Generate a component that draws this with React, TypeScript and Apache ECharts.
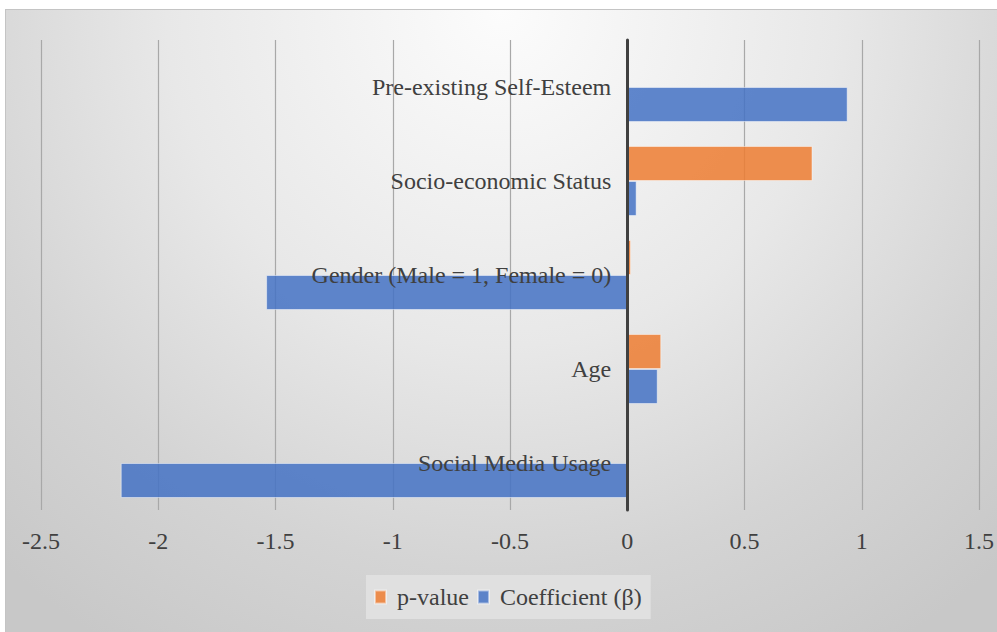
import React, { useEffect, useRef } from "react";
import * as echarts from "echarts";

const categories = [
  "Social Media Usage",
  "Age",
  "Gender (Male = 1, Female = 0)",
  "Socio-economic Status",
  "Pre-existing Self-Esteem",
];
const pValues = [0.0, 0.145, 0.016, 0.79, 0.0];
const coefficients = [-2.16, 0.13, -1.54, 0.04, 0.94];
const seriesNames = ["p-value", "Coefficient (β)"];
const xMin = -2.5;
const xMax = 1.5;
const xStep = 0.5;

const FONT = "Liberation Serif, Times New Roman, Times, serif";
const TEXT = "#404040";

const GRID_LEFT = 41;
const GRID_RIGHT = 18;
const CHART_W = 997;
const ZERO_X = GRID_LEFT + ((0 - xMin) / (xMax - xMin)) * (CHART_W - GRID_LEFT - GRID_RIGHT);

export default function App() {
  const ref = useRef<HTMLDivElement>(null);

  useEffect(() => {
    if (!ref.current) return;
    const chart = echarts.init(ref.current, undefined, { renderer: "svg" });
    chart.setOption({
      animation: false,
      backgroundColor: "transparent",
      textStyle: { fontFamily: FONT },
      grid: {
        left: GRID_LEFT,
        right: GRID_RIGHT,
        top: 40,
        bottom: 122,
        containLabel: false,
        outerBoundsMode: "none",
      },
      legend: {
        data: seriesNames,
        left: 366,
        top: 575,
        orient: "horizontal",
        backgroundColor: "#e0e0e0",
        padding: [10, 9, 10, 8],
        itemWidth: 11,
        itemHeight: 13,
        itemGap: 8,
        icon: "rect",
        textStyle: { fontFamily: FONT, fontSize: 24, color: TEXT, padding: [0, 0, 0, 6] },
      },
      xAxis: {
        type: "value",
        min: xMin,
        max: xMax,
        interval: xStep,
        axisLine: { show: false },
        axisTick: { show: false },
        axisLabel: { fontFamily: FONT, fontSize: 24, color: TEXT, margin: 19 },
        splitLine: { show: true, lineStyle: { color: "#a8a8a8", width: 1.2 } },
      },
      yAxis: {
        type: "category",
        data: categories,
        z: 10,
        axisLine: { show: true, onZero: true, lineStyle: { color: "#404040", width: 3 } },
        axisTick: { show: false },
        axisLabel: {
          fontFamily: FONT,
          fontSize: 24,
          color: TEXT,
          margin: -(ZERO_X - GRID_LEFT - 16),
          align: "right",
        },
        splitLine: { show: false },
      },
      series: [
        {
          name: seriesNames[0],
          type: "bar",
          data: pValues,
          barGap: "0%",
          barCategoryGap: "25.5%",
          itemStyle: {
            color: "#ED7D31",
            opacity: 0.85,
            borderColor: "rgba(255,255,255,0.55)",
            borderWidth: 1,
          },
        },
        {
          name: seriesNames[1],
          type: "bar",
          data: coefficients,
          barGap: "0%",
          barCategoryGap: "25.5%",
          itemStyle: {
            color: "#4472C4",
            opacity: 0.85,
            borderColor: "rgba(255,255,255,0.55)",
            borderWidth: 1,
          },
        },
      ],
    });
    return () => chart.dispose();
  }, []);

  return (
    <div
      style={{
        position: "fixed",
        left: 0,
        top: 0,
        width: 997,
        height: 632,
        background: "#ffffff",
        overflow: "hidden",
      }}
    >
      <div
        style={{
          position: "absolute",
          left: 5,
          top: 9,
          width: 992,
          height: 623,
          borderTop: "1px solid #c4c4c4",
          borderLeft: "1px solid #c4c4c4",
          boxSizing: "border-box",
          background:
            "radial-gradient(ellipse 75% 120% at 50% 0%, #fcfcfc 0%, #e8e8e8 45%, #d4d4d4 75%, #c8c8c8 100%)",
        }}
      />
      <div
        ref={ref}
        style={{ position: "absolute", left: 0, top: 0, width: 997, height: 632 }}
      />
    </div>
  );
}
